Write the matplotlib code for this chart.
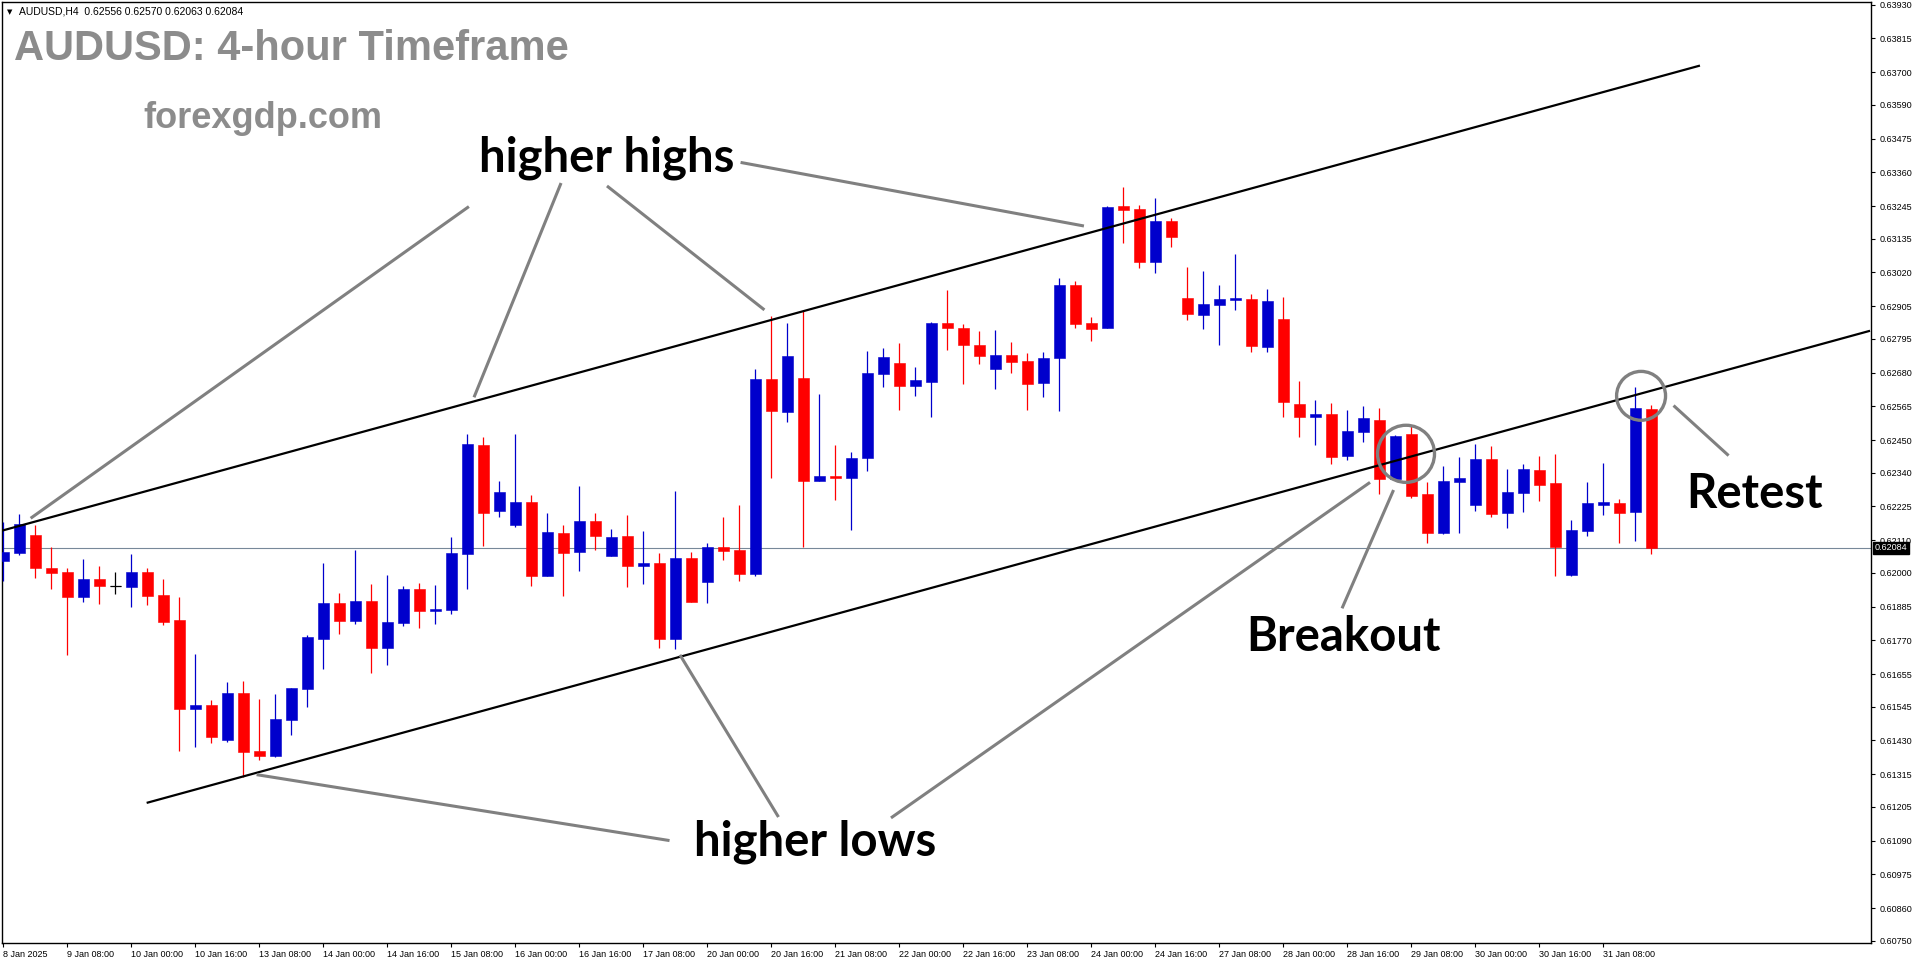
import numpy as np
import matplotlib
matplotlib.use("Agg")
import matplotlib.pyplot as plt
from matplotlib.patches import Ellipse

W, H = 1916, 964

# AUDUSD H4 candles, 8 Jan 16:00 .. 31 Jan 20:00 (prices in 1e-5)
opens = np.array([
    62041, 62068, 62128, 62016, 62003, 61919, 61979, 61955, 61953, 62003,
    61924, 61840, 61538, 61551, 61432, 61592, 61395, 61379, 61501, 61606,
    61775, 61897, 61836, 61904, 61744, 61829, 61945, 61871, 61875, 62065,
    62434, 62208, 62163, 62240, 61990, 62135, 62072, 62176, 62058, 62125,
    62024, 62033, 61776, 62050, 61970, 62088, 62077, 61997, 62658, 62547,
    62662, 62313, 62329, 62323, 62391, 62676, 62713, 62636, 62649, 62849,
    62832, 62774, 62693, 62740, 62719, 62646, 62731, 62978, 62849, 62833,
    63246, 63236, 63057, 63195, 62934, 62877, 62911, 62928, 62930, 62768,
    62862, 62573, 62530, 62539, 62397, 62479, 62519, 62319, 62471, 62268,
    62135, 62308, 62230, 62387, 62203, 62271, 62349, 62305, 61992, 62142,
    62230, 62237, 62206, 62556]) / 1e5
highs = np.array([
    62174, 62200, 62162, 62087, 62016, 62047, 62023, 62003, 62064, 62016,
    61979, 61918, 61724, 61568, 61629, 61632, 61571, 61588, 61609, 61789,
    62033, 61931, 62077, 61962, 61992, 61955, 61965, 61958, 62122, 62471,
    62461, 62312, 62471, 62264, 62203, 62162, 62295, 62203, 62149, 62196,
    62142, 62067, 62278, 62071, 62101, 62189, 62230, 62692, 62872, 62849,
    62889, 62607, 62434, 62410, 62753, 62764, 62781, 62699, 62852, 62961,
    62845, 62821, 62825, 62784, 62747, 62750, 63001, 62991, 62869, 63246,
    63311, 63249, 63273, 63205, 63039, 63026, 62978, 63083, 62947, 62964,
    62937, 62652, 62587, 62577, 62553, 62567, 62560, 62468, 62502, 62308,
    62363, 62393, 62438, 62431, 62353, 62370, 62397, 62404, 62179, 62308,
    62373, 62251, 62631, 62570]) / 1e5
lows = np.array([
    61973, 62061, 61983, 61945, 61721, 61902, 61894, 61929, 61885, 61892,
    61823, 61396, 61409, 61423, 61426, 61307, 61364, 61375, 61447, 61545,
    61673, 61792, 61826, 61660, 61687, 61819, 61812, 61827, 61861, 61943,
    62091, 62191, 62157, 61956, 61990, 61922, 62007, 62078, 62058, 61953,
    61963, 61745, 61740, 61902, 61898, 62044, 61973, 61990, 62323, 62513,
    62087, 62310, 62248, 62145, 62346, 62631, 62554, 62602, 62530, 62758,
    62642, 62710, 62624, 62680, 62554, 62598, 62551, 62833, 62788, 62833,
    63121, 63036, 63019, 63108, 62860, 62829, 62775, 62894, 62751, 62751,
    62530, 62461, 62434, 62370, 62383, 62444, 62268, 62315, 62254, 62101,
    62132, 62135, 62210, 62189, 62152, 62206, 62244, 61989, 61989, 62125,
    62196, 62101, 62108, 62063]) / 1e5
closes = np.array([
    62072, 62166, 62017, 62000, 61919, 61979, 61956, 61955, 62003, 61922,
    61834, 61538, 61551, 61443, 61592, 61392, 61379, 61503, 61609, 61782,
    61897, 61836, 61904, 61744, 61833, 61945, 61870, 61877, 62067, 62438,
    62204, 62275, 62240, 61990, 62139, 62068, 62176, 62126, 62122, 62024,
    62032, 61776, 62050, 61902, 62088, 62075, 61997, 62658, 62551, 62737,
    62313, 62329, 62323, 62390, 62679, 62733, 62636, 62655, 62849, 62833,
    62775, 62737, 62740, 62717, 62642, 62730, 62978, 62846, 62829, 63243,
    63234, 63057, 63195, 63142, 62880, 62913, 62930, 62934, 62771, 62923,
    62581, 62530, 62539, 62393, 62482, 62526, 62319, 62465, 62261, 62135,
    62312, 62322, 62387, 62200, 62275, 62353, 62298, 62088, 62145, 62237,
    62240, 62203, 62560, 62084]) / 1e5

bid = 0.62084
header = "AUDUSD,H4  0.62556 0.62570 0.62063 0.62084"

price_ticks = [0.63930, 0.63815, 0.63700, 0.63590, 0.63475, 0.63360, 0.63245,
               0.63135, 0.63020, 0.62905, 0.62795, 0.62680, 0.62565, 0.62450,
               0.62340, 0.62225, 0.62110, 0.62000, 0.61885, 0.61770, 0.61655,
               0.61545, 0.61430, 0.61315, 0.61205, 0.61090, 0.60975, 0.60860,
               0.60750]
time_labels = ["8 Jan 2025", "9 Jan 08:00", "10 Jan 00:00", "10 Jan 16:00",
               "13 Jan 08:00", "14 Jan 00:00", "14 Jan 16:00", "15 Jan 08:00",
               "16 Jan 00:00", "16 Jan 16:00", "17 Jan 08:00", "20 Jan 00:00",
               "20 Jan 16:00", "21 Jan 08:00", "22 Jan 00:00", "22 Jan 16:00",
               "23 Jan 08:00", "24 Jan 00:00", "24 Jan 16:00", "27 Jan 08:00",
               "28 Jan 00:00", "28 Jan 16:00", "29 Jan 08:00", "30 Jan 00:00",
               "30 Jan 16:00", "31 Jan 08:00"]
label_every = 4

# channel lines (bar index, price)
upper_line = [(-0.21, 0.62141), (106.04, 0.63723)]
lower_line = [(8.96, 0.61218), (116.67, 0.62822)]

# pointer lines for the labels (bar index, price)
pointers = [
    [(29.1, 0.63244), (1.71, 0.62185)],
    [(34.86, 0.63324), (29.42, 0.62596)],
    [(37.73, 0.63314), (47.57, 0.62893)],
    [(46.08, 0.63394), (67.54, 0.63178)],
    [(41.64, 0.61090), (15.83, 0.61314)],
    [(48.45, 0.61170), (42.29, 0.61721)],
    [(55.48, 0.61167), (85.42, 0.62307)],
    [(86.89, 0.62281), (83.67, 0.61879)],
    [(104.39, 0.62568), (107.83, 0.62398)],
]
circles = [(87.67, 0.62404, 3.56, 0.00194), (102.36, 0.62601, 3.06, 0.00166)]

BLUE = "#0000CC"
RED = "#FF0000"
GREY = "#808080"

fig = plt.figure(figsize=(W / 100, H / 100), dpi=100)
fig.patch.set_facecolor("white")
ax = fig.add_axes([2 / W, 21 / H, 1869 / W, 941 / H])
ax.set_xlim(-0.08, 116.73)
ax.set_ylim(0.60742, 0.63939)

x = np.arange(len(opens))
cols = [BLUE if c > o else (RED if c < o else "black") for o, c in zip(opens, closes)]

ax.axhline(bid, color="#778899", lw=0.8, zorder=1)
ax.vlines(x, lows, highs, colors=cols, lw=0.9, zorder=3)
bottoms = np.minimum(opens, closes)
heights = np.abs(closes - opens)
ax.bar(x, heights, width=0.68, bottom=bottoms, color=cols, edgecolor=cols,
       linewidth=0.4, zorder=4)
doji = heights == 0
ax.hlines(opens[doji], x[doji] - 0.34, x[doji] + 0.34, colors="black", lw=0.9, zorder=4)

for (x0, y0), (x1, y1) in [upper_line, lower_line]:
    ax.plot([x0, x1], [y0, y1], color="black", lw=1.6, zorder=5, solid_capstyle="butt")
for (x0, y0), (x1, y1) in pointers:
    ax.plot([x0, x1], [y0, y1], color=GREY, lw=2.2, zorder=6, solid_capstyle="butt")
for cx, cy, w, h in circles:
    ax.add_patch(Ellipse((cx, cy), w, h, fill=False, edgecolor=GREY, lw=2.4, zorder=6))

# axes styling, MT4-like
for s in ax.spines.values():
    s.set_color("black")
    s.set_linewidth(1.0)
ax.yaxis.tick_right()
ax.set_yticks(price_ticks)
ax.set_yticklabels([f"{p:.5f}" for p in price_ticks])
ax.set_xticks(np.arange(len(time_labels)) * label_every)
ax.set_xticklabels(time_labels, ha="left")
ax.tick_params(axis="both", direction="out", length=3, width=0.8, colors="black",
               labelsize=6.5)
ax.tick_params(axis="y", pad=3)
ax.tick_params(axis="x", pad=2)
for t in ax.get_xticklabels() + ax.get_yticklabels():
    t.set_fontfamily("Liberation Sans")

# bid price box
ax.text(1.002, bid, f"{bid:.5f}", transform=ax.get_yaxis_transform(), color="white",
        fontsize=6.5, family="Liberation Sans", va="center", ha="left", zorder=10,
        clip_on=False, bbox=dict(boxstyle="square,pad=0.15", fc="black", ec="black"))


def ptext(px, py, s, **kw):
    fig.text(px / W, 1 - py / H, s, **kw)


ptext(7, 12, "\u25bc", fontsize=5, family="DejaVu Sans", va="center")
ptext(19, 12, header, fontsize=7.5, family="Liberation Sans", va="center")
ptext(14, 60, "AUDUSD: 4-hour Timeframe", fontsize=30, weight="bold",
      family="Liberation Sans", color="#8c8c8c", va="baseline")
ptext(143, 128, "forexgdp.com", fontsize=26, weight="bold",
      family="Liberation Sans", color="#8c8c8c", va="baseline")
lab = dict(fontsize=34, weight="bold", family="Lato", color="black", va="baseline")
ptext(479, 171, "higher highs", **lab)
ptext(694, 855, "higher lows", **lab)
ptext(1246, 651, "Breakout", **lab)
ptext(1686, 508, "Retest", **lab)

fig.savefig("out.png", dpi=100, facecolor="white")
